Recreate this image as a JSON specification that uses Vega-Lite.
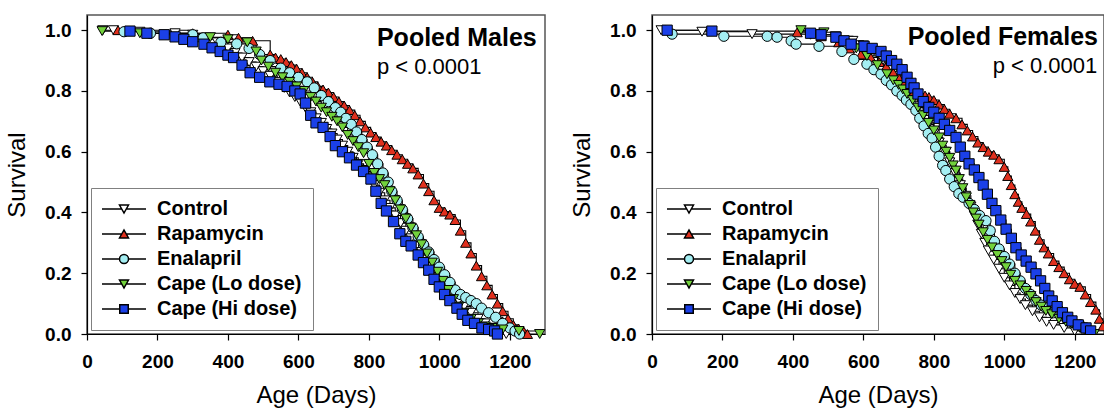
{
"$schema": "https://vega.github.io/schema/vega-lite/v6.json",
"background": "white",
"padding": {"left": 4, "top": 14, "right": 0, "bottom": 0},
"spacing": 107,
"bounds": "flush",
"config": {
  "font": "Liberation Sans",
  "view": {"stroke": "#555555", "strokeWidth": 1.5},
  "axis": {"domainColor": "black", "domainWidth": 1.2, "tickColor": "black", "tickWidth": 1.2, "tickSize": 6, "grid": false,
    "labelFont": "Liberation Sans", "labelFontSize": 19, "labelFontWeight": "bold", "labelColor": "black", "labelFlush": false, "labelOverlap": false,
    "titleFont": "Liberation Sans", "titleFontSize": 24, "titleFontWeight": "normal", "titleColor": "black"},
  "axisX": {"labelPadding": 12, "titlePadding": 12},
  "axisY": {"labelPadding": 10, "titlePadding": 15},
  "legend": {"title": null, "orient": "bottom-left", "offset": 4, "padding": 11, "rowPadding": 5, "strokeColor": "#808080", "fillColor": "white",
    "symbolSize": 100, "symbolOffset": 12, "labelOffset": 23, "labelFont": "Liberation Sans", "labelFontSize": 20, "labelFontWeight": "bold", "labelColor": "black", "labelLimit": 300}
},
"resolve": {"scale": {"x": "independent", "y": "independent", "fill": "independent", "shape": "independent"}, "legend": {"fill": "independent", "shape": "independent"}},
"datasets": {
"males": [
{"group":"Control","day":45,"surv":1.0},{"group":"Control","day":75,"surv":1.0},{"group":"Control","day":150,"surv":0.995},{"group":"Control","day":250,"surv":0.99},{"group":"Control","day":300,"surv":0.985},{"group":"Control","day":340,"surv":0.97},{"group":"Control","day":370,"surv":0.96},{"group":"Control","day":400,"surv":0.94},{"group":"Control","day":420,"surv":0.925},{"group":"Control","day":440,"surv":0.91},{"group":"Control","day":460,"surv":0.895},{"group":"Control","day":480,"surv":0.88},{"group":"Control","day":500,"surv":0.865},{"group":"Control","day":520,"surv":0.85},{"group":"Control","day":540,"surv":0.83},{"group":"Control","day":560,"surv":0.81},{"group":"Control","day":575,"surv":0.795},{"group":"Control","day":590,"surv":0.78},{"group":"Control","day":605,"surv":0.765},{"group":"Control","day":620,"surv":0.745},{"group":"Control","day":635,"surv":0.73},{"group":"Control","day":650,"surv":0.71},{"group":"Control","day":665,"surv":0.695},{"group":"Control","day":680,"surv":0.675},{"group":"Control","day":695,"surv":0.66},{"group":"Control","day":710,"surv":0.64},{"group":"Control","day":725,"surv":0.62},{"group":"Control","day":740,"surv":0.6},{"group":"Control","day":755,"surv":0.58},{"group":"Control","day":770,"surv":0.56},{"group":"Control","day":785,"surv":0.54},{"group":"Control","day":800,"surv":0.515},{"group":"Control","day":815,"surv":0.49},{"group":"Control","day":830,"surv":0.465},{"group":"Control","day":845,"surv":0.44},{"group":"Control","day":860,"surv":0.415},{"group":"Control","day":875,"surv":0.39},{"group":"Control","day":890,"surv":0.365},{"group":"Control","day":905,"surv":0.34},{"group":"Control","day":920,"surv":0.315},{"group":"Control","day":935,"surv":0.29},{"group":"Control","day":950,"surv":0.27},{"group":"Control","day":965,"surv":0.245},{"group":"Control","day":980,"surv":0.22},{"group":"Control","day":995,"surv":0.2},{"group":"Control","day":1010,"surv":0.175},{"group":"Control","day":1025,"surv":0.155},{"group":"Control","day":1040,"surv":0.13},{"group":"Control","day":1055,"surv":0.11},{"group":"Control","day":1070,"surv":0.09},{"group":"Control","day":1090,"surv":0.07},{"group":"Control","day":1110,"surv":0.05},{"group":"Control","day":1130,"surv":0.035},{"group":"Control","day":1150,"surv":0.02},{"group":"Control","day":1170,"surv":0.01},{"group":"Control","day":1190,"surv":0.0},
{"group":"Rapamycin","day":88,"surv":1.0},{"group":"Rapamycin","day":300,"surv":0.99},{"group":"Rapamycin","day":400,"surv":0.985},{"group":"Rapamycin","day":430,"surv":0.975},{"group":"Rapamycin","day":470,"surv":0.965},{"group":"Rapamycin","day":520,"surv":0.92},{"group":"Rapamycin","day":535,"surv":0.91},{"group":"Rapamycin","day":550,"surv":0.905},{"group":"Rapamycin","day":565,"surv":0.895},{"group":"Rapamycin","day":580,"surv":0.885},{"group":"Rapamycin","day":595,"surv":0.873},{"group":"Rapamycin","day":610,"surv":0.86},{"group":"Rapamycin","day":625,"surv":0.845},{"group":"Rapamycin","day":640,"surv":0.83},{"group":"Rapamycin","day":655,"surv":0.815},{"group":"Rapamycin","day":670,"surv":0.805},{"group":"Rapamycin","day":685,"surv":0.795},{"group":"Rapamycin","day":700,"surv":0.78},{"group":"Rapamycin","day":715,"surv":0.765},{"group":"Rapamycin","day":730,"surv":0.752},{"group":"Rapamycin","day":745,"surv":0.737},{"group":"Rapamycin","day":760,"surv":0.72},{"group":"Rapamycin","day":775,"surv":0.7},{"group":"Rapamycin","day":790,"surv":0.68},{"group":"Rapamycin","day":805,"surv":0.663},{"group":"Rapamycin","day":820,"surv":0.648},{"group":"Rapamycin","day":835,"surv":0.633},{"group":"Rapamycin","day":850,"surv":0.62},{"group":"Rapamycin","day":865,"surv":0.605},{"group":"Rapamycin","day":880,"surv":0.59},{"group":"Rapamycin","day":895,"surv":0.575},{"group":"Rapamycin","day":910,"surv":0.56},{"group":"Rapamycin","day":925,"surv":0.545},{"group":"Rapamycin","day":940,"surv":0.525},{"group":"Rapamycin","day":955,"surv":0.495},{"group":"Rapamycin","day":970,"surv":0.47},{"group":"Rapamycin","day":985,"surv":0.44},{"group":"Rapamycin","day":1000,"surv":0.415},{"group":"Rapamycin","day":1015,"surv":0.403},{"group":"Rapamycin","day":1030,"surv":0.393},{"group":"Rapamycin","day":1045,"surv":0.375},{"group":"Rapamycin","day":1060,"surv":0.34},{"group":"Rapamycin","day":1075,"surv":0.3},{"group":"Rapamycin","day":1090,"surv":0.265},{"group":"Rapamycin","day":1105,"surv":0.225},{"group":"Rapamycin","day":1120,"surv":0.19},{"group":"Rapamycin","day":1135,"surv":0.16},{"group":"Rapamycin","day":1150,"surv":0.13},{"group":"Rapamycin","day":1165,"surv":0.1},{"group":"Rapamycin","day":1180,"surv":0.075},{"group":"Rapamycin","day":1195,"surv":0.05},{"group":"Rapamycin","day":1210,"surv":0.03},{"group":"Rapamycin","day":1225,"surv":0.018},{"group":"Rapamycin","day":1240,"surv":0.008},{"group":"Rapamycin","day":1250,"surv":0.0},
{"group":"Enalapril","day":105,"surv":0.995},{"group":"Enalapril","day":180,"surv":0.99},{"group":"Enalapril","day":300,"surv":0.985},{"group":"Enalapril","day":330,"surv":0.975},{"group":"Enalapril","day":380,"surv":0.96},{"group":"Enalapril","day":425,"surv":0.955},{"group":"Enalapril","day":460,"surv":0.94},{"group":"Enalapril","day":490,"surv":0.92},{"group":"Enalapril","day":520,"surv":0.9},{"group":"Enalapril","day":550,"surv":0.875},{"group":"Enalapril","day":575,"surv":0.86},{"group":"Enalapril","day":600,"surv":0.845},{"group":"Enalapril","day":625,"surv":0.83},{"group":"Enalapril","day":645,"surv":0.81},{"group":"Enalapril","day":665,"surv":0.785},{"group":"Enalapril","day":685,"surv":0.765},{"group":"Enalapril","day":705,"surv":0.745},{"group":"Enalapril","day":720,"surv":0.73},{"group":"Enalapril","day":735,"surv":0.71},{"group":"Enalapril","day":750,"surv":0.69},{"group":"Enalapril","day":765,"surv":0.665},{"group":"Enalapril","day":780,"surv":0.64},{"group":"Enalapril","day":795,"surv":0.615},{"group":"Enalapril","day":810,"surv":0.59},{"group":"Enalapril","day":825,"surv":0.56},{"group":"Enalapril","day":840,"surv":0.53},{"group":"Enalapril","day":855,"surv":0.5},{"group":"Enalapril","day":865,"surv":0.47},{"group":"Enalapril","day":880,"surv":0.44},{"group":"Enalapril","day":895,"surv":0.41},{"group":"Enalapril","day":910,"surv":0.38},{"group":"Enalapril","day":925,"surv":0.35},{"group":"Enalapril","day":940,"surv":0.32},{"group":"Enalapril","day":955,"surv":0.295},{"group":"Enalapril","day":970,"surv":0.27},{"group":"Enalapril","day":985,"surv":0.245},{"group":"Enalapril","day":1000,"surv":0.22},{"group":"Enalapril","day":1015,"surv":0.195},{"group":"Enalapril","day":1030,"surv":0.17},{"group":"Enalapril","day":1045,"surv":0.145},{"group":"Enalapril","day":1060,"surv":0.13},{"group":"Enalapril","day":1075,"surv":0.12},{"group":"Enalapril","day":1090,"surv":0.11},{"group":"Enalapril","day":1105,"surv":0.1},{"group":"Enalapril","day":1120,"surv":0.085},{"group":"Enalapril","day":1140,"surv":0.07},{"group":"Enalapril","day":1160,"surv":0.055},{"group":"Enalapril","day":1180,"surv":0.035},{"group":"Enalapril","day":1200,"surv":0.02},{"group":"Enalapril","day":1215,"surv":0.01},{"group":"Enalapril","day":1228,"surv":0.0},
{"group":"Cape (Lo dose)","day":43,"surv":0.997},{"group":"Cape (Lo dose)","day":150,"surv":0.99},{"group":"Cape (Lo dose)","day":350,"surv":0.977},{"group":"Cape (Lo dose)","day":400,"surv":0.97},{"group":"Cape (Lo dose)","day":455,"surv":0.96},{"group":"Cape (Lo dose)","day":480,"surv":0.93},{"group":"Cape (Lo dose)","day":495,"surv":0.9},{"group":"Cape (Lo dose)","day":515,"surv":0.88},{"group":"Cape (Lo dose)","day":535,"surv":0.86},{"group":"Cape (Lo dose)","day":555,"surv":0.845},{"group":"Cape (Lo dose)","day":575,"surv":0.83},{"group":"Cape (Lo dose)","day":595,"surv":0.815},{"group":"Cape (Lo dose)","day":615,"surv":0.8},{"group":"Cape (Lo dose)","day":635,"surv":0.78},{"group":"Cape (Lo dose)","day":650,"surv":0.765},{"group":"Cape (Lo dose)","day":665,"surv":0.745},{"group":"Cape (Lo dose)","day":680,"surv":0.73},{"group":"Cape (Lo dose)","day":695,"surv":0.715},{"group":"Cape (Lo dose)","day":710,"surv":0.7},{"group":"Cape (Lo dose)","day":725,"surv":0.68},{"group":"Cape (Lo dose)","day":740,"surv":0.655},{"group":"Cape (Lo dose)","day":755,"surv":0.635},{"group":"Cape (Lo dose)","day":770,"surv":0.615},{"group":"Cape (Lo dose)","day":785,"surv":0.595},{"group":"Cape (Lo dose)","day":800,"surv":0.56},{"group":"Cape (Lo dose)","day":815,"surv":0.53},{"group":"Cape (Lo dose)","day":830,"surv":0.51},{"group":"Cape (Lo dose)","day":845,"surv":0.49},{"group":"Cape (Lo dose)","day":860,"surv":0.47},{"group":"Cape (Lo dose)","day":875,"surv":0.44},{"group":"Cape (Lo dose)","day":890,"surv":0.41},{"group":"Cape (Lo dose)","day":905,"surv":0.38},{"group":"Cape (Lo dose)","day":920,"surv":0.35},{"group":"Cape (Lo dose)","day":935,"surv":0.325},{"group":"Cape (Lo dose)","day":950,"surv":0.295},{"group":"Cape (Lo dose)","day":965,"surv":0.265},{"group":"Cape (Lo dose)","day":980,"surv":0.235},{"group":"Cape (Lo dose)","day":995,"surv":0.205},{"group":"Cape (Lo dose)","day":1010,"surv":0.175},{"group":"Cape (Lo dose)","day":1025,"surv":0.145},{"group":"Cape (Lo dose)","day":1040,"surv":0.115},{"group":"Cape (Lo dose)","day":1055,"surv":0.09},{"group":"Cape (Lo dose)","day":1070,"surv":0.07},{"group":"Cape (Lo dose)","day":1090,"surv":0.05},{"group":"Cape (Lo dose)","day":1110,"surv":0.035},{"group":"Cape (Lo dose)","day":1130,"surv":0.025},{"group":"Cape (Lo dose)","day":1150,"surv":0.02},{"group":"Cape (Lo dose)","day":1180,"surv":0.015},{"group":"Cape (Lo dose)","day":1226,"surv":0.01},{"group":"Cape (Lo dose)","day":1285,"surv":0.0},
{"group":"Cape (Hi dose)","day":122,"surv":0.997},{"group":"Cape (Hi dose)","day":170,"surv":0.99},{"group":"Cape (Hi dose)","day":219,"surv":0.985},{"group":"Cape (Hi dose)","day":250,"surv":0.978},{"group":"Cape (Hi dose)","day":275,"surv":0.97},{"group":"Cape (Hi dose)","day":300,"surv":0.962},{"group":"Cape (Hi dose)","day":332,"surv":0.954},{"group":"Cape (Hi dose)","day":355,"surv":0.942},{"group":"Cape (Hi dose)","day":378,"surv":0.93},{"group":"Cape (Hi dose)","day":400,"surv":0.918},{"group":"Cape (Hi dose)","day":416,"surv":0.91},{"group":"Cape (Hi dose)","day":440,"surv":0.885},{"group":"Cape (Hi dose)","day":463,"surv":0.86},{"group":"Cape (Hi dose)","day":490,"surv":0.845},{"group":"Cape (Hi dose)","day":519,"surv":0.83},{"group":"Cape (Hi dose)","day":545,"surv":0.822},{"group":"Cape (Hi dose)","day":568,"surv":0.815},{"group":"Cape (Hi dose)","day":590,"surv":0.8},{"group":"Cape (Hi dose)","day":605,"surv":0.79},{"group":"Cape (Hi dose)","day":620,"surv":0.76},{"group":"Cape (Hi dose)","day":635,"surv":0.72},{"group":"Cape (Hi dose)","day":650,"surv":0.695},{"group":"Cape (Hi dose)","day":670,"surv":0.68},{"group":"Cape (Hi dose)","day":690,"surv":0.65},{"group":"Cape (Hi dose)","day":705,"surv":0.62},{"group":"Cape (Hi dose)","day":725,"surv":0.6},{"group":"Cape (Hi dose)","day":745,"surv":0.58},{"group":"Cape (Hi dose)","day":765,"surv":0.556},{"group":"Cape (Hi dose)","day":785,"surv":0.535},{"group":"Cape (Hi dose)","day":806,"surv":0.51},{"group":"Cape (Hi dose)","day":820,"surv":0.47},{"group":"Cape (Hi dose)","day":835,"surv":0.43},{"group":"Cape (Hi dose)","day":850,"surv":0.405},{"group":"Cape (Hi dose)","day":870,"surv":0.37},{"group":"Cape (Hi dose)","day":888,"surv":0.33},{"group":"Cape (Hi dose)","day":905,"surv":0.305},{"group":"Cape (Hi dose)","day":920,"surv":0.29},{"group":"Cape (Hi dose)","day":940,"surv":0.26},{"group":"Cape (Hi dose)","day":955,"surv":0.235},{"group":"Cape (Hi dose)","day":970,"surv":0.21},{"group":"Cape (Hi dose)","day":985,"surv":0.18},{"group":"Cape (Hi dose)","day":1000,"surv":0.155},{"group":"Cape (Hi dose)","day":1015,"surv":0.13},{"group":"Cape (Hi dose)","day":1030,"surv":0.11},{"group":"Cape (Hi dose)","day":1050,"surv":0.085},{"group":"Cape (Hi dose)","day":1065,"surv":0.065},{"group":"Cape (Hi dose)","day":1081,"surv":0.045},{"group":"Cape (Hi dose)","day":1100,"surv":0.035},{"group":"Cape (Hi dose)","day":1121,"surv":0.02},{"group":"Cape (Hi dose)","day":1140,"surv":0.015},{"group":"Cape (Hi dose)","day":1157,"surv":0.01},{"group":"Cape (Hi dose)","day":1165,"surv":0.0}
],
"females": [
{"group":"Control","day":26,"surv":1.0},{"group":"Control","day":142,"surv":0.995},{"group":"Control","day":284,"surv":0.987},{"group":"Control","day":450,"surv":0.985},{"group":"Control","day":520,"surv":0.98},{"group":"Control","day":570,"surv":0.965},{"group":"Control","day":600,"surv":0.95},{"group":"Control","day":630,"surv":0.93},{"group":"Control","day":655,"surv":0.9},{"group":"Control","day":675,"surv":0.875},{"group":"Control","day":695,"surv":0.85},{"group":"Control","day":710,"surv":0.825},{"group":"Control","day":725,"surv":0.8},{"group":"Control","day":740,"surv":0.775},{"group":"Control","day":755,"surv":0.75},{"group":"Control","day":770,"surv":0.72},{"group":"Control","day":785,"surv":0.69},{"group":"Control","day":800,"surv":0.66},{"group":"Control","day":815,"surv":0.63},{"group":"Control","day":830,"surv":0.6},{"group":"Control","day":845,"surv":0.565},{"group":"Control","day":860,"surv":0.53},{"group":"Control","day":875,"surv":0.49},{"group":"Control","day":890,"surv":0.455},{"group":"Control","day":905,"surv":0.42},{"group":"Control","day":915,"surv":0.39},{"group":"Control","day":925,"surv":0.36},{"group":"Control","day":935,"surv":0.33},{"group":"Control","day":945,"surv":0.3},{"group":"Control","day":955,"surv":0.275},{"group":"Control","day":970,"surv":0.245},{"group":"Control","day":985,"surv":0.215},{"group":"Control","day":1000,"surv":0.185},{"group":"Control","day":1015,"surv":0.16},{"group":"Control","day":1030,"surv":0.135},{"group":"Control","day":1045,"surv":0.115},{"group":"Control","day":1060,"surv":0.095},{"group":"Control","day":1080,"surv":0.075},{"group":"Control","day":1100,"surv":0.055},{"group":"Control","day":1120,"surv":0.04},{"group":"Control","day":1140,"surv":0.03},{"group":"Control","day":1170,"surv":0.02},{"group":"Control","day":1200,"surv":0.01},{"group":"Control","day":1235,"surv":0.0},
{"group":"Rapamycin","day":412,"surv":0.993},{"group":"Rapamycin","day":480,"surv":0.98},{"group":"Rapamycin","day":530,"surv":0.96},{"group":"Rapamycin","day":560,"surv":0.94},{"group":"Rapamycin","day":593,"surv":0.92},{"group":"Rapamycin","day":621,"surv":0.91},{"group":"Rapamycin","day":645,"surv":0.895},{"group":"Rapamycin","day":665,"surv":0.88},{"group":"Rapamycin","day":685,"surv":0.86},{"group":"Rapamycin","day":700,"surv":0.845},{"group":"Rapamycin","day":715,"surv":0.83},{"group":"Rapamycin","day":730,"surv":0.815},{"group":"Rapamycin","day":745,"surv":0.8},{"group":"Rapamycin","day":760,"surv":0.79},{"group":"Rapamycin","day":775,"surv":0.785},{"group":"Rapamycin","day":786,"surv":0.78},{"group":"Rapamycin","day":800,"surv":0.77},{"group":"Rapamycin","day":815,"surv":0.755},{"group":"Rapamycin","day":830,"surv":0.74},{"group":"Rapamycin","day":845,"surv":0.725},{"group":"Rapamycin","day":863,"surv":0.71},{"group":"Rapamycin","day":880,"surv":0.69},{"group":"Rapamycin","day":895,"surv":0.67},{"group":"Rapamycin","day":910,"surv":0.65},{"group":"Rapamycin","day":925,"surv":0.63},{"group":"Rapamycin","day":940,"surv":0.615},{"group":"Rapamycin","day":955,"surv":0.6},{"group":"Rapamycin","day":970,"surv":0.59},{"group":"Rapamycin","day":985,"surv":0.575},{"group":"Rapamycin","day":1000,"surv":0.55},{"group":"Rapamycin","day":1010,"surv":0.52},{"group":"Rapamycin","day":1020,"surv":0.49},{"group":"Rapamycin","day":1030,"surv":0.46},{"group":"Rapamycin","day":1040,"surv":0.435},{"group":"Rapamycin","day":1050,"surv":0.415},{"group":"Rapamycin","day":1063,"surv":0.395},{"group":"Rapamycin","day":1075,"surv":0.37},{"group":"Rapamycin","day":1088,"surv":0.34},{"group":"Rapamycin","day":1100,"surv":0.31},{"group":"Rapamycin","day":1113,"surv":0.285},{"group":"Rapamycin","day":1125,"surv":0.265},{"group":"Rapamycin","day":1140,"surv":0.24},{"group":"Rapamycin","day":1155,"surv":0.22},{"group":"Rapamycin","day":1170,"surv":0.2},{"group":"Rapamycin","day":1185,"surv":0.18},{"group":"Rapamycin","day":1200,"surv":0.165},{"group":"Rapamycin","day":1215,"surv":0.155},{"group":"Rapamycin","day":1230,"surv":0.13},{"group":"Rapamycin","day":1245,"surv":0.105},{"group":"Rapamycin","day":1260,"surv":0.08},{"group":"Rapamycin","day":1270,"surv":0.05},{"group":"Rapamycin","day":1280,"surv":0.025},{"group":"Rapamycin","day":1290,"surv":0.0},
{"group":"Enalapril","day":57,"surv":0.987},{"group":"Enalapril","day":204,"surv":0.98},{"group":"Enalapril","day":327,"surv":0.98},{"group":"Enalapril","day":355,"surv":0.977},{"group":"Enalapril","day":395,"surv":0.965},{"group":"Enalapril","day":409,"surv":0.954},{"group":"Enalapril","day":474,"surv":0.947},{"group":"Enalapril","day":539,"surv":0.93},{"group":"Enalapril","day":573,"surv":0.904},{"group":"Enalapril","day":610,"surv":0.888},{"group":"Enalapril","day":630,"surv":0.87},{"group":"Enalapril","day":650,"surv":0.855},{"group":"Enalapril","day":665,"surv":0.835},{"group":"Enalapril","day":680,"surv":0.82},{"group":"Enalapril","day":695,"surv":0.8},{"group":"Enalapril","day":710,"surv":0.785},{"group":"Enalapril","day":722,"surv":0.77},{"group":"Enalapril","day":735,"surv":0.756},{"group":"Enalapril","day":749,"surv":0.736},{"group":"Enalapril","day":760,"surv":0.71},{"group":"Enalapril","day":772,"surv":0.685},{"group":"Enalapril","day":784,"surv":0.66},{"group":"Enalapril","day":795,"surv":0.645},{"group":"Enalapril","day":805,"surv":0.615},{"group":"Enalapril","day":815,"surv":0.585},{"group":"Enalapril","day":825,"surv":0.555},{"group":"Enalapril","day":834,"surv":0.538},{"group":"Enalapril","day":845,"surv":0.51},{"group":"Enalapril","day":858,"surv":0.485},{"group":"Enalapril","day":871,"surv":0.462},{"group":"Enalapril","day":883,"surv":0.45},{"group":"Enalapril","day":900,"surv":0.43},{"group":"Enalapril","day":915,"surv":0.41},{"group":"Enalapril","day":930,"surv":0.39},{"group":"Enalapril","day":948,"surv":0.373},{"group":"Enalapril","day":960,"surv":0.34},{"group":"Enalapril","day":972,"surv":0.305},{"group":"Enalapril","day":985,"surv":0.28},{"group":"Enalapril","day":1000,"surv":0.255},{"group":"Enalapril","day":1015,"surv":0.23},{"group":"Enalapril","day":1030,"surv":0.2},{"group":"Enalapril","day":1045,"surv":0.175},{"group":"Enalapril","day":1060,"surv":0.15},{"group":"Enalapril","day":1075,"surv":0.13},{"group":"Enalapril","day":1090,"surv":0.11},{"group":"Enalapril","day":1105,"surv":0.095},{"group":"Enalapril","day":1118,"surv":0.086},{"group":"Enalapril","day":1140,"surv":0.07},{"group":"Enalapril","day":1160,"surv":0.06},{"group":"Enalapril","day":1192,"surv":0.043},{"group":"Enalapril","day":1215,"surv":0.03},{"group":"Enalapril","day":1232,"surv":0.02},{"group":"Enalapril","day":1245,"surv":0.0},
{"group":"Cape (Lo dose)","day":423,"surv":1.0},{"group":"Cape (Lo dose)","day":488,"surv":0.993},{"group":"Cape (Lo dose)","day":536,"surv":0.963},{"group":"Cape (Lo dose)","day":580,"surv":0.94},{"group":"Cape (Lo dose)","day":610,"surv":0.915},{"group":"Cape (Lo dose)","day":640,"surv":0.885},{"group":"Cape (Lo dose)","day":667,"surv":0.855},{"group":"Cape (Lo dose)","day":685,"surv":0.835},{"group":"Cape (Lo dose)","day":700,"surv":0.82},{"group":"Cape (Lo dose)","day":712,"surv":0.805},{"group":"Cape (Lo dose)","day":724,"surv":0.79},{"group":"Cape (Lo dose)","day":740,"surv":0.77},{"group":"Cape (Lo dose)","day":755,"surv":0.745},{"group":"Cape (Lo dose)","day":770,"surv":0.72},{"group":"Cape (Lo dose)","day":785,"surv":0.695},{"group":"Cape (Lo dose)","day":800,"surv":0.67},{"group":"Cape (Lo dose)","day":815,"surv":0.647},{"group":"Cape (Lo dose)","day":825,"surv":0.62},{"group":"Cape (Lo dose)","day":835,"surv":0.6},{"group":"Cape (Lo dose)","day":845,"surv":0.58},{"group":"Cape (Lo dose)","day":855,"surv":0.555},{"group":"Cape (Lo dose)","day":863,"surv":0.538},{"group":"Cape (Lo dose)","day":872,"surv":0.51},{"group":"Cape (Lo dose)","day":882,"surv":0.48},{"group":"Cape (Lo dose)","day":892,"surv":0.45},{"group":"Cape (Lo dose)","day":902,"surv":0.425},{"group":"Cape (Lo dose)","day":912,"surv":0.4},{"group":"Cape (Lo dose)","day":920,"surv":0.38},{"group":"Cape (Lo dose)","day":928,"surv":0.36},{"group":"Cape (Lo dose)","day":940,"surv":0.335},{"group":"Cape (Lo dose)","day":952,"surv":0.31},{"group":"Cape (Lo dose)","day":965,"surv":0.285},{"group":"Cape (Lo dose)","day":980,"surv":0.26},{"group":"Cape (Lo dose)","day":993,"surv":0.24},{"group":"Cape (Lo dose)","day":1005,"surv":0.22},{"group":"Cape (Lo dose)","day":1018,"surv":0.195},{"group":"Cape (Lo dose)","day":1030,"surv":0.175},{"group":"Cape (Lo dose)","day":1045,"surv":0.16},{"group":"Cape (Lo dose)","day":1062,"surv":0.142},{"group":"Cape (Lo dose)","day":1075,"surv":0.125},{"group":"Cape (Lo dose)","day":1090,"surv":0.105},{"group":"Cape (Lo dose)","day":1105,"surv":0.09},{"group":"Cape (Lo dose)","day":1118,"surv":0.076},{"group":"Cape (Lo dose)","day":1135,"surv":0.065},{"group":"Cape (Lo dose)","day":1155,"surv":0.05},{"group":"Cape (Lo dose)","day":1175,"surv":0.04},{"group":"Cape (Lo dose)","day":1192,"surv":0.033},{"group":"Cape (Lo dose)","day":1215,"surv":0.02},{"group":"Cape (Lo dose)","day":1235,"surv":0.01},{"group":"Cape (Lo dose)","day":1255,"surv":0.0},
{"group":"Cape (Hi dose)","day":43,"surv":1.0},{"group":"Cape (Hi dose)","day":170,"surv":0.997},{"group":"Cape (Hi dose)","day":450,"surv":0.99},{"group":"Cape (Hi dose)","day":480,"surv":0.985},{"group":"Cape (Hi dose)","day":522,"surv":0.977},{"group":"Cape (Hi dose)","day":545,"surv":0.965},{"group":"Cape (Hi dose)","day":565,"surv":0.954},{"group":"Cape (Hi dose)","day":602,"surv":0.947},{"group":"Cape (Hi dose)","day":625,"surv":0.94},{"group":"Cape (Hi dose)","day":650,"surv":0.93},{"group":"Cape (Hi dose)","day":665,"surv":0.915},{"group":"Cape (Hi dose)","day":680,"surv":0.9},{"group":"Cape (Hi dose)","day":695,"surv":0.888},{"group":"Cape (Hi dose)","day":710,"surv":0.87},{"group":"Cape (Hi dose)","day":724,"surv":0.845},{"group":"Cape (Hi dose)","day":735,"surv":0.825},{"group":"Cape (Hi dose)","day":744,"surv":0.81},{"group":"Cape (Hi dose)","day":755,"surv":0.79},{"group":"Cape (Hi dose)","day":770,"surv":0.765},{"group":"Cape (Hi dose)","day":786,"surv":0.746},{"group":"Cape (Hi dose)","day":800,"surv":0.73},{"group":"Cape (Hi dose)","day":815,"surv":0.71},{"group":"Cape (Hi dose)","day":830,"surv":0.69},{"group":"Cape (Hi dose)","day":845,"surv":0.67},{"group":"Cape (Hi dose)","day":863,"surv":0.647},{"group":"Cape (Hi dose)","day":875,"surv":0.615},{"group":"Cape (Hi dose)","day":888,"surv":0.585},{"group":"Cape (Hi dose)","day":900,"surv":0.56},{"group":"Cape (Hi dose)","day":915,"surv":0.54},{"group":"Cape (Hi dose)","day":928,"surv":0.515},{"group":"Cape (Hi dose)","day":940,"surv":0.49},{"group":"Cape (Hi dose)","day":952,"surv":0.46},{"group":"Cape (Hi dose)","day":965,"surv":0.43},{"group":"Cape (Hi dose)","day":976,"surv":0.406},{"group":"Cape (Hi dose)","day":990,"surv":0.375},{"group":"Cape (Hi dose)","day":1005,"surv":0.345},{"group":"Cape (Hi dose)","day":1020,"surv":0.315},{"group":"Cape (Hi dose)","day":1033,"surv":0.284},{"group":"Cape (Hi dose)","day":1048,"surv":0.26},{"group":"Cape (Hi dose)","day":1062,"surv":0.24},{"group":"Cape (Hi dose)","day":1076,"surv":0.22},{"group":"Cape (Hi dose)","day":1090,"surv":0.198},{"group":"Cape (Hi dose)","day":1103,"surv":0.175},{"group":"Cape (Hi dose)","day":1115,"surv":0.15},{"group":"Cape (Hi dose)","day":1126,"surv":0.125},{"group":"Cape (Hi dose)","day":1136,"surv":0.109},{"group":"Cape (Hi dose)","day":1150,"surv":0.09},{"group":"Cape (Hi dose)","day":1165,"surv":0.07},{"group":"Cape (Hi dose)","day":1180,"surv":0.055},{"group":"Cape (Hi dose)","day":1192,"surv":0.043},{"group":"Cape (Hi dose)","day":1210,"surv":0.03},{"group":"Cape (Hi dose)","day":1232,"surv":0.02},{"group":"Cape (Hi dose)","day":1245,"surv":0.01}
]
},
"hconcat": [
{
  "width": 458, "height": 319,
  "data": {"name": "males"},
  "resolve": {"scale": {"fill": "independent", "shape": "independent"}},
  "layer": [
    {"mark": {"type": "line", "interpolate": "step-after", "stroke": "black", "strokeWidth": 1.1},
     "encoding": {
       "x": {"field": "day", "type": "quantitative", "scale": {"domain": [0, 1300], "nice": false, "zero": false}, "axis": {"title": "Age (Days)", "values": [0,200,400,600,800,1000,1200], "format": "d"}},
       "y": {"field": "surv", "type": "quantitative", "scale": {"domain": [0, 1.05], "nice": false}, "axis": {"title": "Survival", "values": [0,0.2,0.4,0.6,0.8,1], "format": ".1f"}},
       "detail": {"field": "group"}}},
    {"mark": {"type": "point", "filled": true, "stroke": "black", "strokeWidth": 1, "size": 105, "opacity": 1},
     "encoding": {
       "x": {"field": "day", "type": "quantitative", "axis": {"title": "Age (Days)", "values": [0,200,400,600,800,1000,1200], "format": "d"}},
       "y": {"field": "surv", "type": "quantitative", "axis": {"title": "Survival", "values": [0,0.2,0.4,0.6,0.8,1], "format": ".1f"}},
       "fill": {"field": "group", "type": "nominal", "scale": {"domain": ["Control","Rapamycin","Enalapril","Cape (Lo dose)","Cape (Hi dose)"], "range": ["#ffffff","#e0301e","#a4eef2","#72d23c","#1b40e8"]}, "legend": null},
       "shape": {"field": "group", "type": "nominal", "scale": {"domain": ["Control","Rapamycin","Enalapril","Cape (Lo dose)","Cape (Hi dose)"], "range": ["triangle-down","triangle-up","circle","triangle-down","square"]}, "legend": null}}},
    {"transform": [{"filter": "false"}],
     "mark": {"type": "point", "filled": true, "stroke": "black", "strokeWidth": 1, "size": 105, "opacity": 1},
     "encoding": {
       "x": {"field": "day", "type": "quantitative"},
       "y": {"field": "surv", "type": "quantitative"},
       "fill": {"field": "group", "type": "nominal", "scale": {"domain": ["Control","Rapamycin","Enalapril","Cape (Lo dose)","Cape (Hi dose)"], "range": ["#ffffff","#e0301e","#a4eef2","#72d23c","#1b40e8"]},
         "legend": {"encode": {"symbols": {"update": {"stroke": {"value": "black"}, "strokeWidth": {"value": 1.1}, "opacity": {"value": 1}}}, "legend": {"update": {"strokeWidth": {"value": 1.5}}}}}},
       "shape": {"field": "group", "type": "nominal", "scale": {"domain": ["Control","Rapamycin","Enalapril","Cape (Lo dose)","Cape (Hi dose)"], "range": [
          "M-4.4,0H-0.5M0.5,0H4.4M-0.9,-0.8H0.9L0,0.8Z",
          "M-4.4,0H-0.5M0.5,0H4.4M-0.9,0.8H0.9L0,-0.8Z",
          "M-4.4,0H-0.9M0.9,0H4.4M-0.9,0A0.9,0.9,0,1,0,0.9,0A0.9,0.9,0,1,0,-0.9,0Z",
          "M-4.4,0H-0.5M0.5,0H4.4M-0.9,-0.8H0.9L0,0.8Z",
          "M-4.4,0H-0.85M0.85,0H4.4M-0.85,-0.85H0.85V0.85H-0.85Z"]},
         "legend": {"encode": {"symbols": {"update": {"stroke": {"value": "black"}, "strokeWidth": {"value": 1.1}, "opacity": {"value": 1}}}, "legend": {"update": {"strokeWidth": {"value": 1.5}}}}}}}},
    {"data": {"values": [{"t": "Pooled Males"}]},
     "mark": {"type": "text", "align": "left", "baseline": "middle", "fontSize": 25, "fontWeight": "bold", "font": "Liberation Sans", "color": "black"},
     "encoding": {"x": {"datum": 823, "type": "quantitative"}, "y": {"datum": 0.974, "type": "quantitative"}, "text": {"field": "t"}}},
    {"data": {"values": [{"t": "p < 0.0001"}]},
     "mark": {"type": "text", "align": "left", "baseline": "middle", "fontSize": 22, "fontWeight": "normal", "font": "Liberation Sans", "color": "black"},
     "encoding": {"x": {"datum": 823, "type": "quantitative"}, "y": {"datum": 0.878, "type": "quantitative"}, "text": {"field": "t"}}}
  ]
},
{
  "width": 452, "height": 319,
  "data": {"name": "females"},
  "resolve": {"scale": {"fill": "independent", "shape": "independent"}},
  "layer": [
    {"mark": {"type": "line", "interpolate": "step-after", "stroke": "black", "strokeWidth": 1.1, "clip": true},
     "encoding": {
       "x": {"field": "day", "type": "quantitative", "scale": {"domain": [0, 1283], "nice": false, "zero": false}, "axis": {"title": "Age (Days)", "values": [0,200,400,600,800,1000,1200], "format": "d"}},
       "y": {"field": "surv", "type": "quantitative", "scale": {"domain": [0, 1.05], "nice": false}, "axis": {"title": "Survival", "values": [0,0.2,0.4,0.6,0.8,1], "format": ".1f"}},
       "detail": {"field": "group"}}},
    {"mark": {"type": "point", "filled": true, "stroke": "black", "strokeWidth": 1, "size": 105, "opacity": 1, "clip": true},
     "encoding": {
       "x": {"field": "day", "type": "quantitative", "axis": {"title": "Age (Days)", "values": [0,200,400,600,800,1000,1200], "format": "d"}},
       "y": {"field": "surv", "type": "quantitative", "axis": {"title": "Survival", "values": [0,0.2,0.4,0.6,0.8,1], "format": ".1f"}},
       "fill": {"field": "group", "type": "nominal", "scale": {"domain": ["Control","Rapamycin","Enalapril","Cape (Lo dose)","Cape (Hi dose)"], "range": ["#ffffff","#e0301e","#a4eef2","#72d23c","#1b40e8"]}, "legend": null},
       "shape": {"field": "group", "type": "nominal", "scale": {"domain": ["Control","Rapamycin","Enalapril","Cape (Lo dose)","Cape (Hi dose)"], "range": ["triangle-down","triangle-up","circle","triangle-down","square"]}, "legend": null}}},
    {"transform": [{"filter": "false"}],
     "mark": {"type": "point", "filled": true, "stroke": "black", "strokeWidth": 1, "size": 105, "opacity": 1},
     "encoding": {
       "x": {"field": "day", "type": "quantitative"},
       "y": {"field": "surv", "type": "quantitative"},
       "fill": {"field": "group", "type": "nominal", "scale": {"domain": ["Control","Rapamycin","Enalapril","Cape (Lo dose)","Cape (Hi dose)"], "range": ["#ffffff","#e0301e","#a4eef2","#72d23c","#1b40e8"]},
         "legend": {"encode": {"symbols": {"update": {"stroke": {"value": "black"}, "strokeWidth": {"value": 1.1}, "opacity": {"value": 1}}}, "legend": {"update": {"strokeWidth": {"value": 1.5}}}}}},
       "shape": {"field": "group", "type": "nominal", "scale": {"domain": ["Control","Rapamycin","Enalapril","Cape (Lo dose)","Cape (Hi dose)"], "range": [
          "M-4.4,0H-0.5M0.5,0H4.4M-0.9,-0.8H0.9L0,0.8Z",
          "M-4.4,0H-0.5M0.5,0H4.4M-0.9,0.8H0.9L0,-0.8Z",
          "M-4.4,0H-0.9M0.9,0H4.4M-0.9,0A0.9,0.9,0,1,0,0.9,0A0.9,0.9,0,1,0,-0.9,0Z",
          "M-4.4,0H-0.5M0.5,0H4.4M-0.9,-0.8H0.9L0,0.8Z",
          "M-4.4,0H-0.85M0.85,0H4.4M-0.85,-0.85H0.85V0.85H-0.85Z"]},
         "legend": {"encode": {"symbols": {"update": {"stroke": {"value": "black"}, "strokeWidth": {"value": 1.1}, "opacity": {"value": 1}}}, "legend": {"update": {"strokeWidth": {"value": 1.5}}}}}}}},
    {"data": {"values": [{"t": "Pooled Females"}]},
     "mark": {"type": "text", "align": "right", "baseline": "middle", "fontSize": 25, "fontWeight": "bold", "font": "Liberation Sans", "color": "black"},
     "encoding": {"x": {"datum": 1266, "type": "quantitative"}, "y": {"datum": 0.977, "type": "quantitative"}, "text": {"field": "t"}}},
    {"data": {"values": [{"t": "p < 0.0001"}]},
     "mark": {"type": "text", "align": "right", "baseline": "middle", "fontSize": 22, "fontWeight": "normal", "font": "Liberation Sans", "color": "black"},
     "encoding": {"x": {"datum": 1264, "type": "quantitative"}, "y": {"datum": 0.881, "type": "quantitative"}, "text": {"field": "t"}}}
  ]
}
]
}
